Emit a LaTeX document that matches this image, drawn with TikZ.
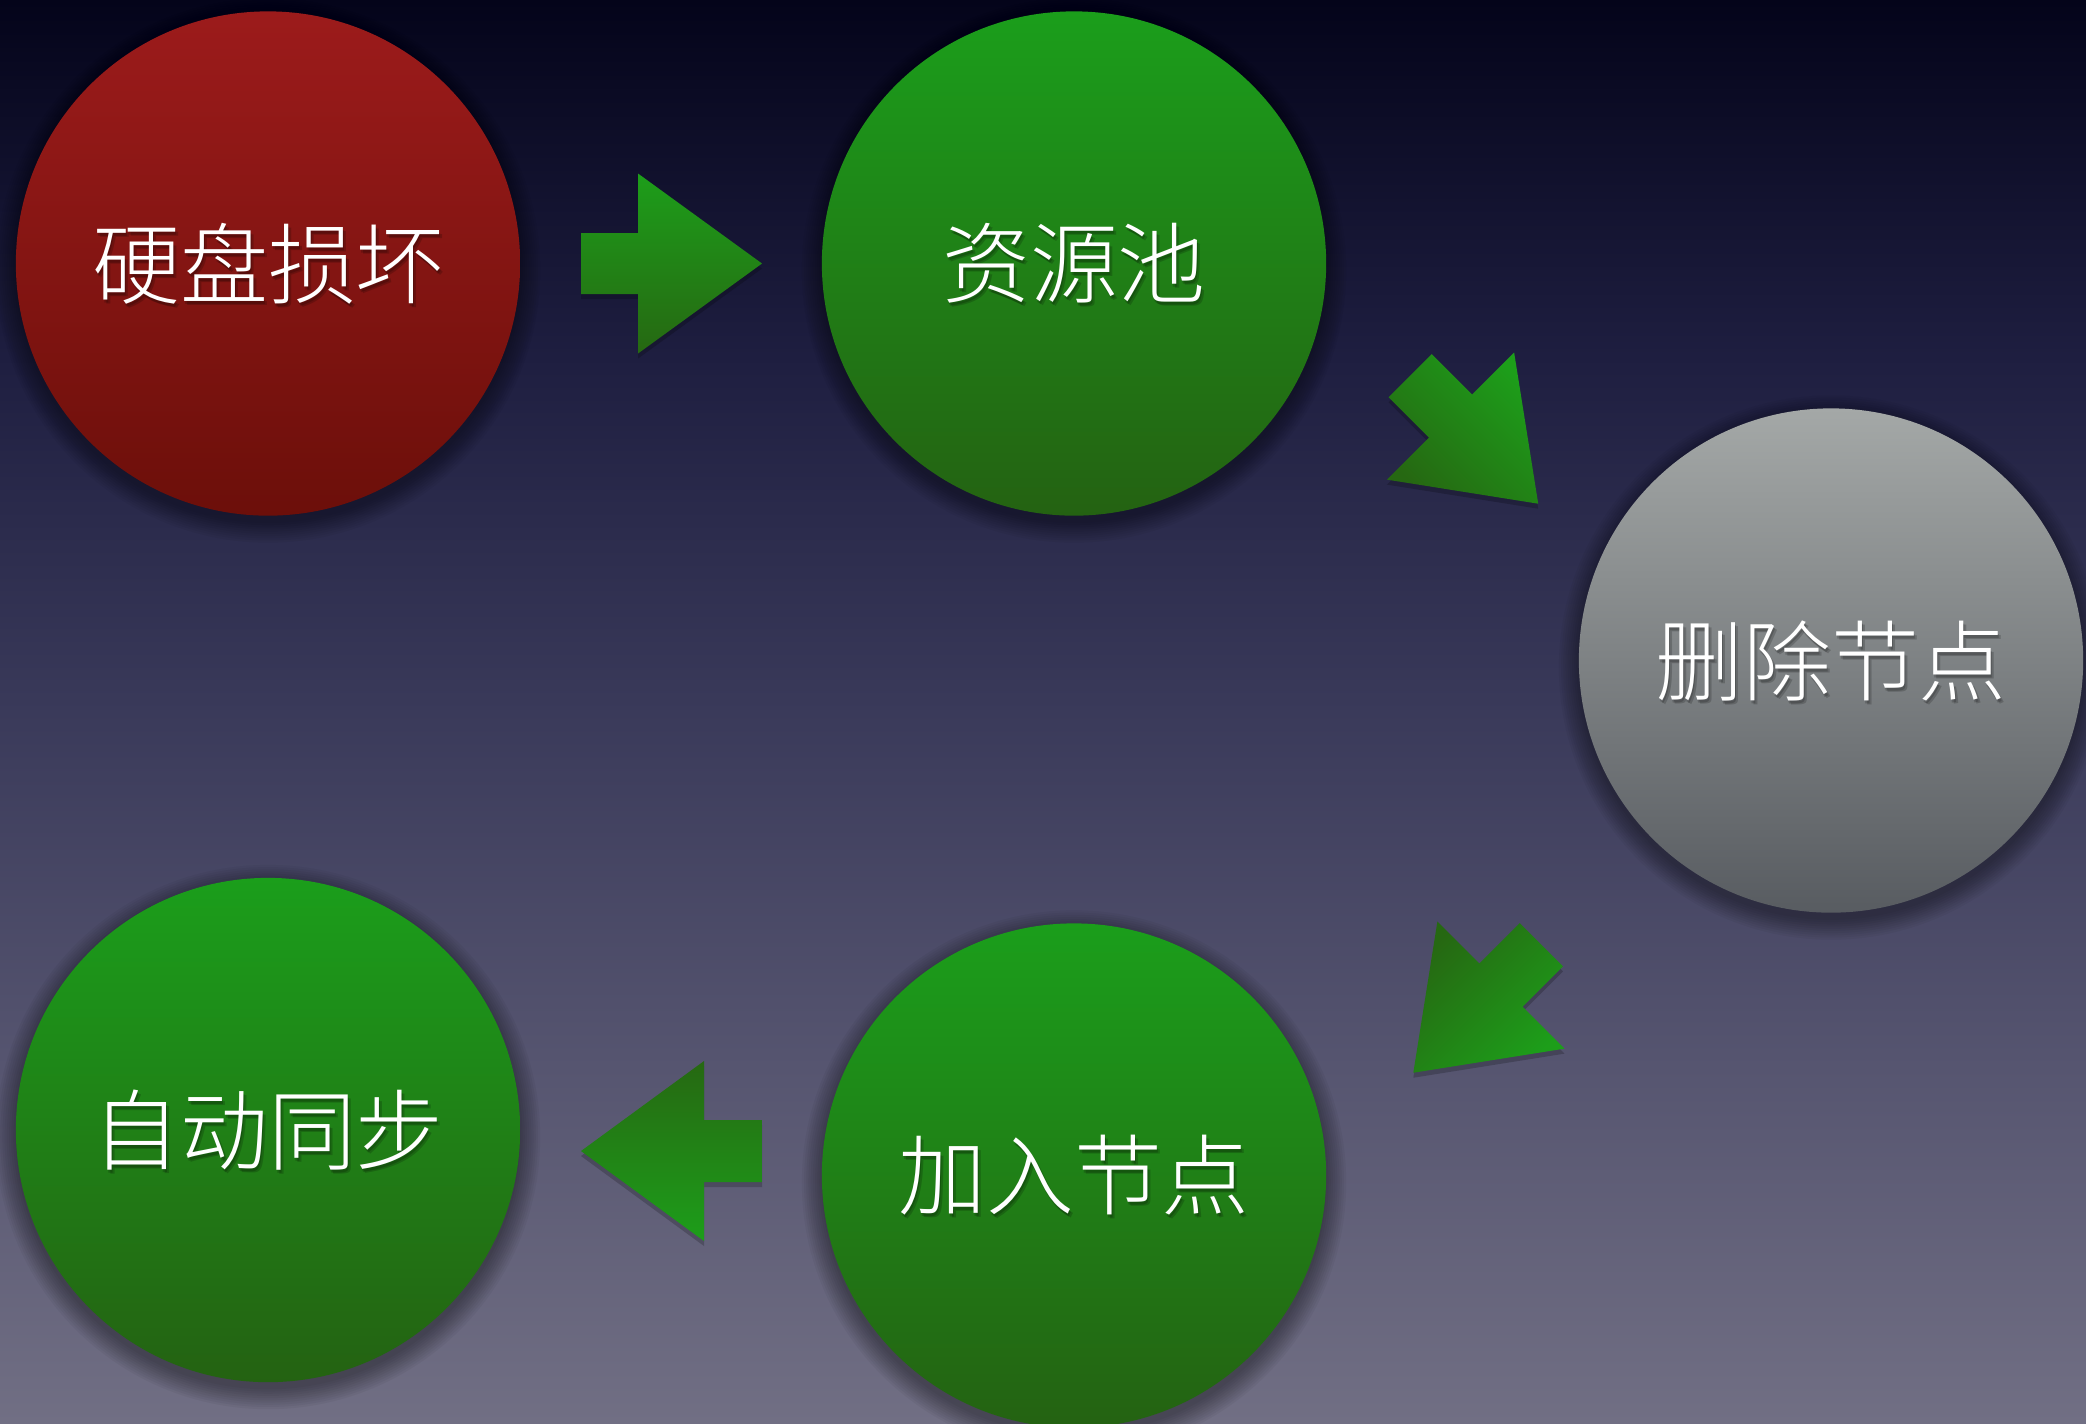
\documentclass[tikz,border=0pt]{standalone}
\usepackage{fontspec}
\newfontfamily\cjk{Noto Sans CJK SC Light}
\definecolor{bgA}{HTML}{04041A}
\definecolor{bgB}{HTML}{1E1E40}
\definecolor{bgC}{HTML}{3A3A5A}
\definecolor{bgD}{HTML}{565570}
\definecolor{bgE}{HTML}{716F84}
\definecolor{redT}{HTML}{9C1B1B}
\definecolor{redB}{HTML}{6C0F0A}
\definecolor{grnT}{HTML}{1B9E1B}
\definecolor{grnB}{HTML}{246212}
\definecolor{gryT}{HTML}{A4A8A7}
\definecolor{gryB}{HTML}{585C61}
\definecolor{arL}{HTML}{1D9E1A}
\definecolor{arD}{HTML}{266812}
\pgfdeclareverticalshading{bgsh}{100bp}{color(0bp)=(bgE); color(25bp)=(bgE); color(37.5bp)=(bgD); color(50bp)=(bgC); color(62.5bp)=(bgB); color(75bp)=(bgA); color(100bp)=(bgA)}
\pgfdeclareverticalshading{arrowsh}{100bp}{color(0bp)=(arD); color(25bp)=(arD); color(75bp)=(arL); color(100bp)=(arL)}
\tikzset{
  ball/.style={circle, minimum size=5.04cm, inner sep=0pt},
  redball/.style={ball, top color=redT, bottom color=redB},
  grnball/.style={ball, top color=grnT, bottom color=grnB},
  gryball/.style={ball, top color=gryT, bottom color=gryB},
  lbl/.style={text=white, font=\cjk\fontsize{25}{30}\selectfont},
  lblshadow/.style={text=black, opacity=0.18, font=\cjk\fontsize{25}{30}\selectfont},
  blockarrow/.style={shading=arrowsh},
}
\newcommand{\shadowlabel}[3]{%
  \node[lblshadow] (#1a) at ([shift={(1,3)}]#2) {#3};
  \node[lblshadow] (#1b) at ([shift={(3,4)}]#2) {#3};
  \node[lbl] (#1) at (#2) {#3};
}
\begin{document}
\begin{tikzpicture}[x=0.01cm,y=-0.01cm]
\useasboundingbox (0,0) rectangle (2086,1423);
\shade[shading=bgsh] (0,0) rectangle (2086,1423);

% centres
\coordinate (p1) at (268,263.5);
\coordinate (p2) at (1074,263.5);
\coordinate (p3) at (1831,660.5);
\coordinate (p4) at (1074,1175.5);
\coordinate (p5) at (268,1130);

% soft shadows
\foreach \p in {p1,p2,p3,p4,p5}{
  \foreach \k in {1,...,10}{
    \fill[black, opacity=0.04] ([shift={(0,7)}]\p) circle ({2.50cm+\k*0.022cm});
  }
}

% balls
\node[redball] (c1) at (p1) {};
\node[grnball] (c2) at (p2) {};
\node[gryball] (c3) at (p3) {};
\node[grnball] (c4) at (p4) {};
\node[grnball] (c5) at (p5) {};

% labels
\shadowlabel{t1}{c1}{硬盘损坏}
\shadowlabel{t2}{c2}{资源池}
\shadowlabel{t3}{c3}{删除节点}
\shadowlabel{t4}{c4}{加入节点}
\shadowlabel{t5}{c5}{自动同步}

% arrow shadows
\begin{scope}[black, opacity=0.2, shift={(0,5)}]
\fill (581,233) -- (638,233) -- (638,173.5) -- (762,263.5) -- (638,353.5) -- (638,294) -- (581,294) -- cycle;
\fill (1431.8,354.1) -- (1472.1,394.4) -- (1514.1,352.4) -- (1538.2,503.7) -- (1386.9,479.6) -- (1428.9,437.6) -- (1388.6,397.3) -- cycle;
\fill (1562.9,966.3) -- (1522.6,1006.6) -- (1564.6,1048.6) -- (1413.3,1072.7) -- (1437.4,921.4) -- (1479.4,963.4) -- (1519.7,923.1) -- cycle;
\fill (762,1120) -- (704,1120) -- (704,1061) -- (581,1151) -- (704,1241) -- (704,1182) -- (762,1182) -- cycle;
\end{scope}

% arrows
\shade[blockarrow, shading angle=0] (581,233) -- (638,233) -- (638,173.5) -- (762,263.5) -- (638,353.5) -- (638,294) -- (581,294) -- cycle;
\shade[blockarrow, shading angle=-45] (1431.8,354.1) -- (1472.1,394.4) -- (1514.1,352.4) -- (1538.2,503.7) -- (1386.9,479.6) -- (1428.9,437.6) -- (1388.6,397.3) -- cycle;
\shade[blockarrow, shading angle=-135] (1562.9,966.3) -- (1522.6,1006.6) -- (1564.6,1048.6) -- (1413.3,1072.7) -- (1437.4,921.4) -- (1479.4,963.4) -- (1519.7,923.1) -- cycle;
\shade[blockarrow, shading angle=180] (762,1120) -- (704,1120) -- (704,1061) -- (581,1151) -- (704,1241) -- (704,1182) -- (762,1182) -- cycle;
\end{tikzpicture}
\end{document}
